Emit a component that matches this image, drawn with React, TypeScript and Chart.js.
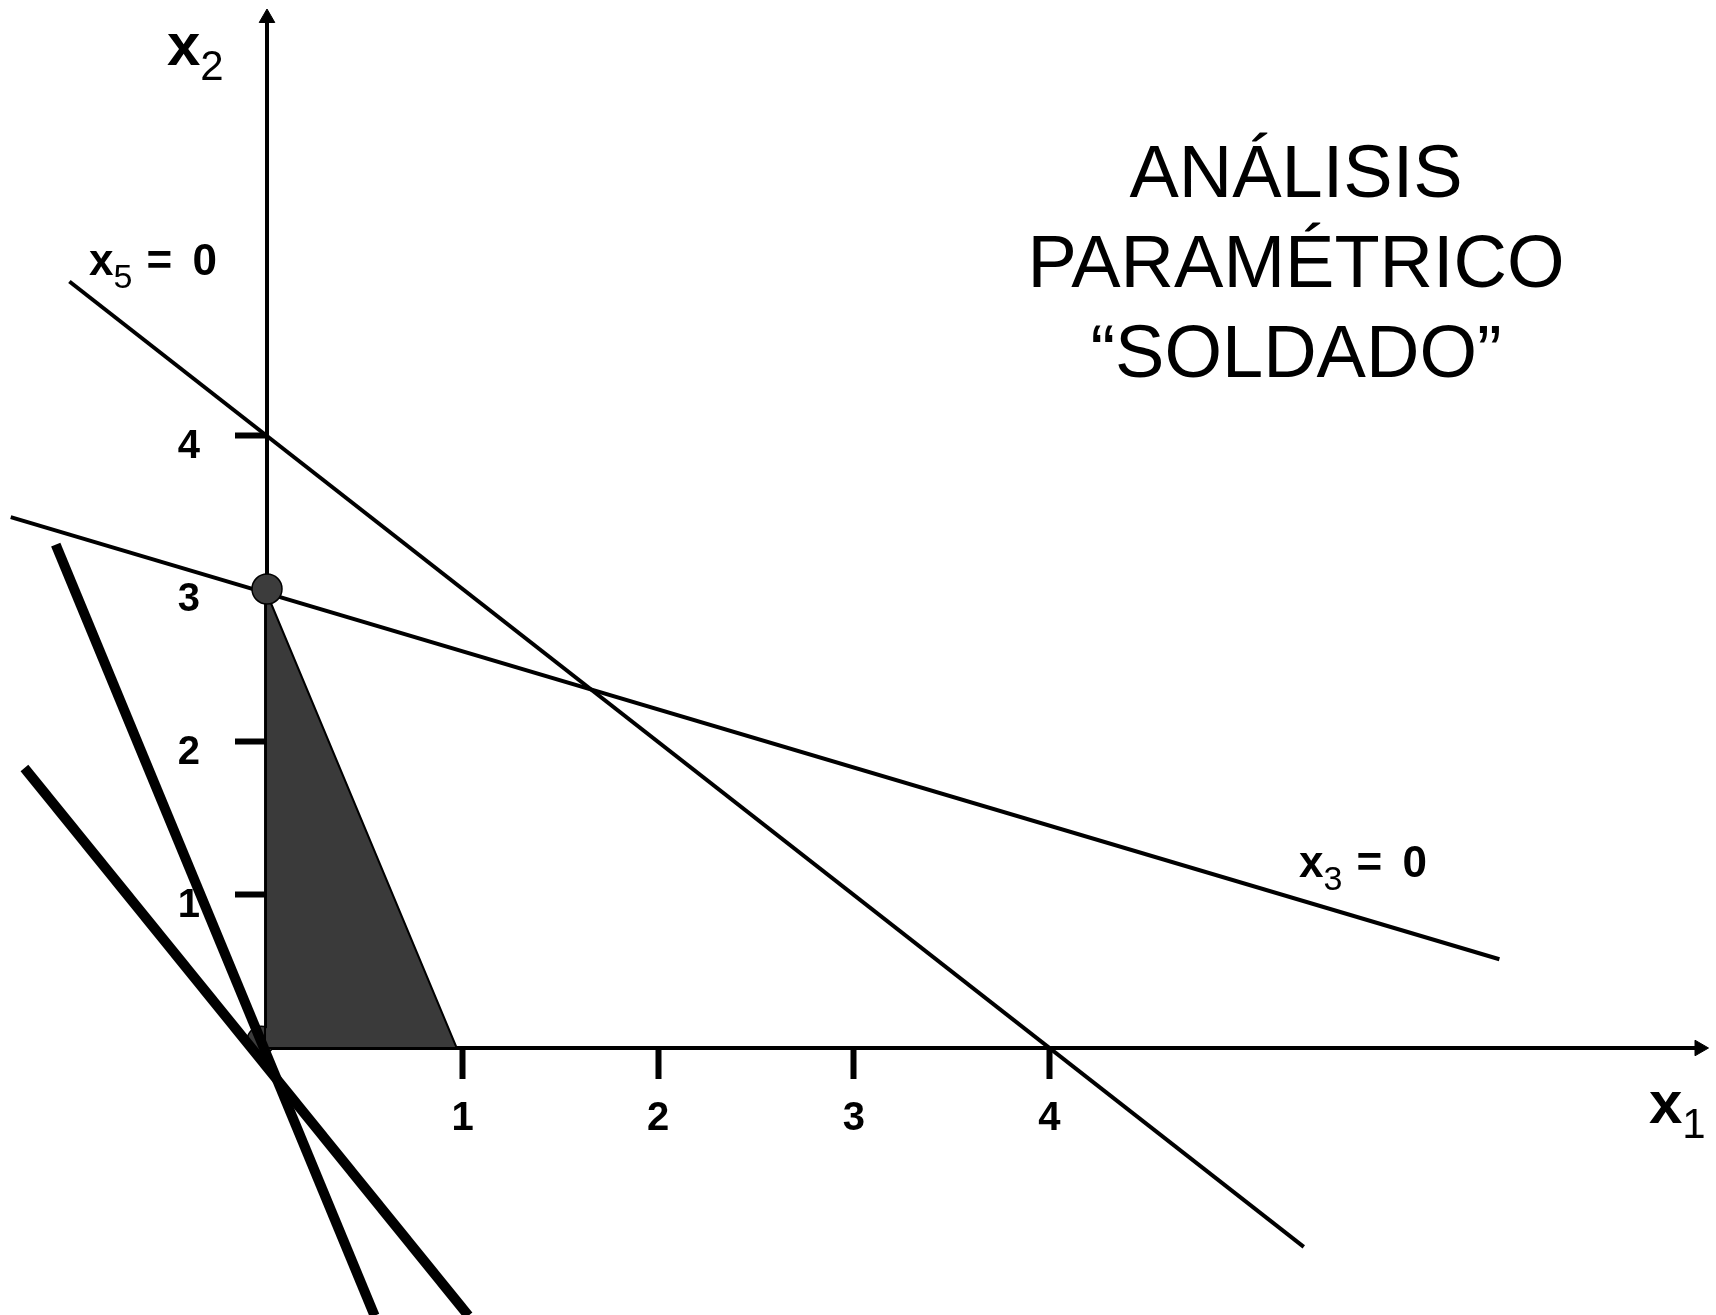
import React, { useEffect, useRef } from 'react';
import { Chart, registerables } from 'chart.js';

Chart.register(...registerables);

// ---- scale bounds ----
const X_MIN = 0;
const X_MAX = 7.323;
const Y_MIN = 0;
const Y_MAX = 6.732;

// ---- ticks ----
const xTickValues = [1, 2, 3, 4];
const xTickLabels = ['1', '2', '3', '4'];
const yTickValues = [1, 2, 3, 4];
const yTickLabels = ['1', '2', '3', '4'];

// ---- constraint lines ----
const x5LineX = [-1.01, 5.3];
const x5LineY = [5.01, -1.3];
const x3LineX = [-1.31, 6.3];
const x3LineY = [3.47, 0.58];
const thickAX = [-1.08, 0.55];
const thickAY = [3.29, -1.75];
const thickBX = [-1.24, 1.03];
const thickBY = [1.83, -1.75];

// ---- feasible region ----
const regionX = [-0.01, -0.01, 0.97, -0.01];
const regionY = [3.0, 0.0, 0.0, 3.0];

// ---- vertices ----
const vertexX = [0];
const vertexY = [3];
const originDotX = [-0.03];
const originDotY = [0.05];

// ---- texts ----
const titleLines = ['ANÁLISIS', 'PARAMÉTRICO', '“SOLDADO”'];

const FONT = '"Liberation Sans", Arial, Helvetica, sans-serif';

const zip = (xs: number[], ys: number[]) => xs.map((x, i) => ({ x, y: ys[i] }));

function drawSub(
  ctx: CanvasRenderingContext2D,
  x: number,
  base: number,
  main: string,
  sub: string,
  mainSize: number,
  subSize: number,
  subDrop: number,
  restSize: number
) {
  ctx.font = `bold ${mainSize}px ${FONT}`;
  ctx.fillText(main, x, base);
  const w1 = ctx.measureText(main).width;
  ctx.font = `${subSize}px ${FONT}`;
  ctx.fillText(sub, x + w1, base + subDrop);
  const w2 = ctx.measureText(sub).width;
  if (restSize) {
    ctx.font = `bold ${restSize}px ${FONT}`;
    const eqX = x + w1 + w2 + 14;
    ctx.fillText('=', eqX, base);
    ctx.fillText('0', eqX + 46, base);
  }
}

const textPlugin = {
  id: 'annotText',
  afterDraw(chart: any) {
    const ctx: CanvasRenderingContext2D = chart.ctx;
    ctx.save();
    ctx.fillStyle = '#000';
    ctx.textBaseline = 'alphabetic';
    ctx.textAlign = 'center';
    ctx.font = `74px ${FONT}`;
    titleLines.forEach((t, i) => ctx.fillText(t, 1296, 197 + i * 90));
    ctx.textAlign = 'left';
    drawSub(ctx, 167, 65, 'x', '2', 60, 42, 15, 0);
    drawSub(ctx, 1649, 1123, 'x', '1', 60, 42, 15, 0);
    drawSub(ctx, 89, 275, 'x', '5', 44, 34, 13, 44);
    drawSub(ctx, 1299, 877, 'x', '3', 44, 34, 13, 44);
    ctx.restore();
  },
};

const noPad = (axis: any) => {
  axis.paddingTop = 0;
  axis.paddingBottom = 0;
  axis.paddingLeft = 0;
  axis.paddingRight = 0;
};

export default function App() {
  const canvasRef = useRef<HTMLCanvasElement | null>(null);

  useEffect(() => {
    const canvas = canvasRef.current;
    if (!canvas) return;
    const lineDs = (data: any[], width: number, order: number) => ({
      data,
      showLine: true,
      borderColor: '#000',
      borderWidth: width,
      pointRadius: 0,
      fill: false,
      clip: false,
      order,
    });
    const chart = new Chart(canvas, {
      type: 'line',
      data: {
        datasets: [
          {
            data: [
              { x: X_MAX, y: 0 },
              { x: 0, y: Y_MAX },
            ],
            showLine: false,
            pointStyle: 'triangle',
            pointRotation: [90, 0],
            pointRadius: 9,
            pointBackgroundColor: '#000',
            pointBorderColor: '#000',
            pointBorderWidth: 1,
            clip: false,
            order: 0,
          } as any,
          {
            data: zip(vertexX, vertexY),
            showLine: false,
            pointStyle: 'circle',
            pointRadius: 15,
            pointBackgroundColor: '#3c3c3c',
            pointBorderColor: '#000',
            pointBorderWidth: 1.5,
            clip: false,
            order: 1,
          },
          lineDs(zip(thickAX, thickAY), 10, 2),
          lineDs(zip(thickBX, thickBY), 10, 3),
          lineDs(zip(x3LineX, x3LineY), 4, 4),
          lineDs(zip(x5LineX, x5LineY), 4, 5),
          {
            data: zip(regionX, regionY),
            showLine: true,
            borderColor: '#000',
            borderWidth: 2,
            backgroundColor: '#3a3a3a',
            fill: 'shape',
            pointRadius: 0,
            clip: false,
            order: 6,
          } as any,
          {
            data: zip(originDotX, originDotY),
            showLine: false,
            pointStyle: 'circle',
            pointRadius: 14,
            pointBackgroundColor: '#3c3c3c',
            pointBorderColor: '#000',
            pointBorderWidth: 1.5,
            clip: false,
            order: 7,
          },
        ],
      },
      options: {
        responsive: false,
        animation: false,
        events: [],
        layout: { padding: { top: 18, right: 10, left: 0, bottom: 0 } },
        plugins: {
          legend: { display: false },
          tooltip: { enabled: false },
          title: { display: false },
        },
        scales: {
          x: {
            type: 'linear',
            position: 'bottom',
            min: X_MIN,
            max: X_MAX,
            afterBuildTicks: (axis: any) => {
              axis.ticks = xTickValues.map((v) => ({ value: v }));
            },
            afterFit: (axis: any) => {
              axis.height = 267;
              noPad(axis);
            },
            grid: {
              display: true,
              drawOnChartArea: false,
              drawTicks: true,
              tickLength: 31,
              tickWidth: 6,
              tickColor: '#000',
            },
            border: { display: true, color: '#000', width: 4 },
            ticks: {
              color: '#000',
              padding: 16,
              maxRotation: 0,
              autoSkip: false,
              font: { family: FONT, size: 40, weight: 'bold' },
              callback: (v: any) => xTickLabels[xTickValues.indexOf(Number(v))] ?? '',
            },
          },
          y: {
            type: 'linear',
            position: 'left',
            min: Y_MIN,
            max: Y_MAX,
            afterBuildTicks: (axis: any) => {
              axis.ticks = yTickValues.map((v) => ({ value: v }));
            },
            afterFit: (axis: any) => {
              axis.width = 267;
              noPad(axis);
            },
            grid: {
              display: true,
              drawOnChartArea: false,
              drawTicks: true,
              tickLength: 32,
              tickWidth: 6,
              tickColor: (c: any) => (c.tick && c.tick.value === 3 ? 'rgba(0,0,0,0)' : '#000'),
            },
            border: { display: true, color: '#000', width: 4 },
            ticks: {
              color: '#000',
              padding: 35,
              labelOffset: 11,
              autoSkip: false,
              font: { family: FONT, size: 40, weight: 'bold' },
              callback: (v: any) => yTickLabels[yTickValues.indexOf(Number(v))] ?? '',
            },
          },
        },
      } as any,
      plugins: [textPlugin],
    });
    return () => chart.destroy();
  }, []);

  return (
    <div style={{ position: 'absolute', left: 0, top: 0, width: 1716, height: 1315, background: '#fff' }}>
      <canvas ref={canvasRef} width={1716} height={1315} style={{ display: 'block' }} />
    </div>
  );
}
